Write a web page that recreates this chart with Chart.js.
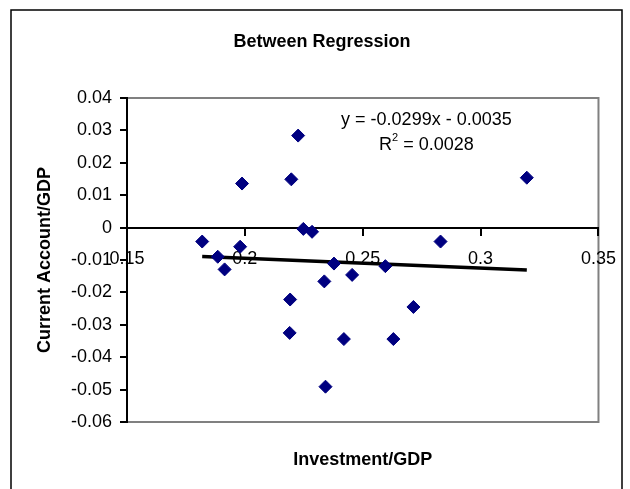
<!DOCTYPE html>
<html>
<head>
<meta charset="utf-8">
<script src="https://cdn.jsdelivr.net/npm/chart.js@4"></script>
<style>
  body { margin: 0; background: #fff; }
  #wrap { width: 630px; height: 489px; position: relative; }
</style>
</head>
<body>
<div id="wrap"><canvas id="myChart" width="630" height="489"></canvas></div>
<script>
// investment / GDP (x) and current account / GDP (y)
var investGdp = [0.1819, 0.1885, 0.1914, 0.1980, 0.1988, 0.2197, 0.2226, 0.2248, 0.2285, 0.2192, 0.2190,
  0.2337, 0.2378, 0.2455, 0.2420, 0.2342, 0.2596, 0.2630, 0.2715, 0.2830, 0.3196];
var currentAcc = [-0.0043, -0.0090, -0.0129, -0.0059, 0.0136, 0.0149, 0.0284, -0.0004, -0.0013, -0.0222, -0.0325,
  -0.0166, -0.0111, -0.0146, -0.0344, -0.0491, -0.0119, -0.0344, -0.0245, -0.0043, 0.0154];
var trendSlope = -0.0299;
var trendIntercept = -0.0035;
var xTicks = [0.15, 0.2, 0.25, 0.3, 0.35];
var yTicks = [0.04, 0.03, 0.02, 0.01, 0, -0.01, -0.02, -0.03, -0.04, -0.05, -0.06];

const FONT = "Arial, 'Liberation Sans', sans-serif";

let points = [];
for (let i = 0; i < investGdp.length; i++) {
  points.push({ x: investGdp[i], y: currentAcc[i] });
}
let xMin = Math.min.apply(null, investGdp),
  xMax = Math.max.apply(null, investGdp);
let trendPoints = [
  { x: xMin, y: trendSlope * xMin + trendIntercept },
  { x: xMax, y: trendSlope * xMax + trendIntercept },
];

function fmt(v) {
  return String(Math.round(v * 100) / 100);
}

// frame, plot border and texts
const decor = {
  id: "decor",
  beforeDraw(chart) {
    const ctx = chart.ctx;
    const a = chart.chartArea;
    ctx.save();
    ctx.fillStyle = "#fff";
    ctx.fillRect(0, 0, chart.width, chart.height);
    // outer chart frame
    ctx.strokeStyle = "#000";
    ctx.lineWidth = 1.5;
    ctx.beginPath();
    ctx.moveTo(11, 500);
    ctx.lineTo(11, 10);
    ctx.lineTo(622, 10);
    ctx.lineTo(622, 500);
    ctx.stroke();
    // plot area border
    ctx.strokeStyle = "#808080";
    ctx.lineWidth = 2;
    ctx.strokeRect(a.left, a.top, a.right - a.left, a.bottom - a.top);
    ctx.restore();
  },
  afterDraw(chart) {
    const ctx = chart.ctx;
    const a = chart.chartArea;
    const xs = chart.scales.x, ys = chart.scales.y;
    ctx.save();
    ctx.fillStyle = "#000";
    ctx.textAlign = "center";
    ctx.textBaseline = "middle";
    ctx.font = "bold 18px " + FONT;
    ctx.fillText("Between Regression", 322, 42);
    ctx.fillText("Investment/GDP", (a.left + a.right) / 2, 460);
    ctx.save();
    ctx.translate(45, (a.top + a.bottom) / 2);
    ctx.rotate(-Math.PI / 2);
    ctx.fillText("Current Account/GDP", 0, 0);
    ctx.restore();

    // trendline equation
    let cx = xs.getPixelForValue(0.277);
    ctx.font = "18px " + FONT;
    ctx.fillText("y = -0.0299x - 0.0035", cx, ys.getPixelForValue(0.0332));
    let rest = " = 0.0028";
    let wR = ctx.measureText("R").width;
    ctx.font = "11px " + FONT;
    let w2 = ctx.measureText("2").width;
    ctx.font = "18px " + FONT;
    let wRest = ctx.measureText(rest).width;
    let left = cx - (wR + w2 + wRest) / 2;
    let y2 = ys.getPixelForValue(0.0255);
    ctx.textAlign = "left";
    ctx.fillText("R", left, y2);
    ctx.fillText(rest, left + wR + w2, y2);
    ctx.font = "11px " + FONT;
    ctx.fillText("2", left + wR, y2 - 7);
    ctx.restore();
  },
};

const config = {
  type: "scatter",
  data: {
    datasets: [
      {
        label: "Current Account/GDP",
        data: points,
        pointStyle: "rectRot",
        pointRadius: 6.5,
        backgroundColor: "#000080",
        borderColor: "#000080",
        borderWidth: 1,
        order: 1,
      },
      {
        type: "line",
        label: "trend",
        data: trendPoints,
        borderColor: "#000",
        borderWidth: 3.5,
        pointRadius: 0,
        fill: false,
        order: 2,
      },
    ],
  },
  options: {
    responsive: false,
    animation: false,
    layout: { padding: { left: 0, top: 98, right: 29, bottom: 67 } },
    plugins: { legend: { display: false }, tooltip: { enabled: false } },
    scales: {
      x: {
        type: "linear",
        position: { y: 0 },
        min: 0.15,
        max: 0.35,
        afterBuildTicks(scale) {
          scale.ticks = xTicks.map((v) => ({ value: v }));
        },
        ticks: {
          color: "#000",
          font: { family: FONT, size: 18 },
          padding: 14,
          maxRotation: 0,
          callback: (v) => fmt(v),
        },
        grid: { drawOnChartArea: false, drawTicks: true, tickLength: 7, color: "#000", lineWidth: 2 },
        border: { color: "#000", width: 2 },
      },
      y: {
        type: "linear",
        position: "left",
        min: -0.06,
        max: 0.04,
        afterBuildTicks(scale) {
          scale.ticks = yTicks.map((v) => ({ value: v }));
        },
        afterFit(scale) {
          scale.width = 127;
        },
        ticks: {
          color: "#000",
          font: { family: FONT, size: 18 },
          padding: 8,
          callback: (v) => fmt(v),
        },
        grid: { drawOnChartArea: false, drawTicks: true, tickLength: 7, color: "#000", lineWidth: 2 },
        border: { color: "#000", width: 2 },
      },
    },
  },
  plugins: [decor],
};

const myChart = new Chart(document.getElementById("myChart"), config);
</script>
</body>
</html>
